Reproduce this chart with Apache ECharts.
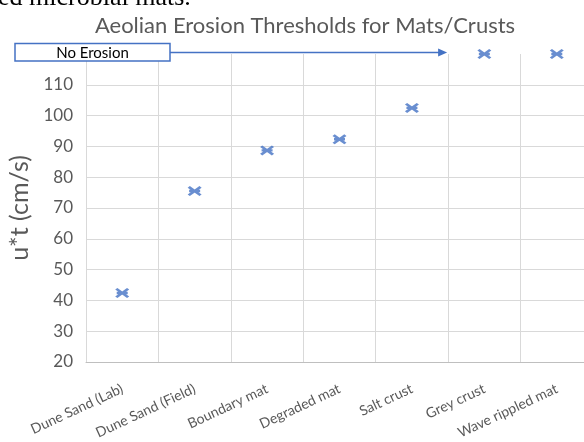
<!DOCTYPE html>
<html><head><meta charset="utf-8">
<style>html,body{margin:0;padding:0;background:#fff}#c{width:584px;height:442px}</style>
<script src="https://cdn.jsdelivr.net/npm/echarts@6/dist/echarts.min.js"></script>
</head><body><div id="c"></div>
<script>
const categories = ['Dune Sand (Lab)', 'Dune Sand (Field)', 'Boundary mat', 'Degraded mat', 'Salt crust', 'Grey crust', 'Wave rippled mat'];
const thresholds = [42.4, 75.5, 88.7, 92.3, 102.5, 120, 120];
const yMin = 20, yMax = 120, yStep = 10;
const noErosionLabel = 'No Erosion';

const blue = '#4472C4';
const grey = '#595959';
const markerPath = 'path://M0,1.6L2.2,0L14,8.4L11.8,10ZM0,8.4L11.8,0L14,1.6L2.2,10ZM1.5,3.8L12.5,3.8L12.5,6.2L1.5,6.2Z';
const nLines = (yMax - yMin) / yStep + 1;
const splitColors = [];
for (let i = 0; i < nLines; i++) splitColors.push(i === nLines - 1 ? 'rgba(0,0,0,0)' : '#d9d9d9');

const chart = echarts.init(document.getElementById('c'));
chart.setOption({
  animation: false,
  title: {
    text: 'Aeolian Erosion Thresholds for Mats/Crusts',
    left: 300, top: 10, textAlign: 'center',
    textStyle: { fontFamily: 'Lato', fontWeight: 'normal', fontSize: 22, color: grey }
  },
  grid: { left: 86, width: 507, top: 54, bottom: 80, outerBoundsMode: 'none', containLabel: false },
  xAxis: {
    type: 'category', data: categories,
    axisTick: { show: false },
    axisLine: { lineStyle: { color: '#bfbfbf' } },
    splitLine: { show: true, lineStyle: { color: '#d9d9d9' } },
    axisLabel: { rotate: 25, color: grey, fontFamily: 'Lato', fontSize: 14, margin: 26, interval: 0 }
  },
  yAxis: {
    type: 'value', min: yMin, max: yMax, interval: yStep,
    name: 'u*t (cm/s)', nameLocation: 'middle', nameGap: 52,
    nameTextStyle: { fontFamily: 'Lato', fontSize: 25, color: grey },
    axisLine: { show: false }, axisTick: { show: false },
    axisLabel: { color: grey, fontFamily: 'Lato', fontSize: 17, margin: 13,
      formatter: v => v === yMax ? '' : String(v) },
    splitLine: { lineStyle: { color: splitColors } }
  },
  series: [{
    type: 'scatter', data: thresholds,
    symbol: markerPath, symbolSize: [14, 10],
    itemStyle: { color: blue }
  }]
});

function drawAnnotation() {
  const c0 = chart.convertToPixel({ xAxisIndex: 0 }, 4);
  const c1 = chart.convertToPixel({ xAxisIndex: 0 }, 5);
  const xEnd = (c0 + c1) / 2 - 1;
  const y = chart.convertToPixel({ yAxisIndex: 0 }, yMax) - 1.5;
  const boxL = 15, boxR = 170, boxT = 43.5, boxB = 61;
  chart.setOption({
    graphic: [
      { type: 'text', x: -2, y: 11,
        style: { text: 'ed microbial mats.', font: '26px "Liberation Serif"', fill: '#000', verticalAlign: 'bottom' } },
      { type: 'line', shape: { x1: boxR, y1: y, x2: xEnd - 7, y2: y },
        style: { stroke: blue, lineWidth: 1.5 } },
      { type: 'polygon', shape: { points: [[xEnd - 9, y - 4], [xEnd, y], [xEnd - 9, y + 4]] },
        style: { fill: blue } },
      { type: 'rect', shape: { x: boxL, y: boxT, width: boxR - boxL, height: boxB - boxT },
        style: { fill: '#fff', stroke: blue, lineWidth: 1.5 } },
      { type: 'text', x: (boxL + boxR) / 2, y: (boxT + boxB) / 2 + 0.5,
        style: { text: noErosionLabel, font: '15px Lato', fill: '#000', align: 'center', verticalAlign: 'middle' } }
    ]
  });
}
drawAnnotation();
</script>
</body></html>
